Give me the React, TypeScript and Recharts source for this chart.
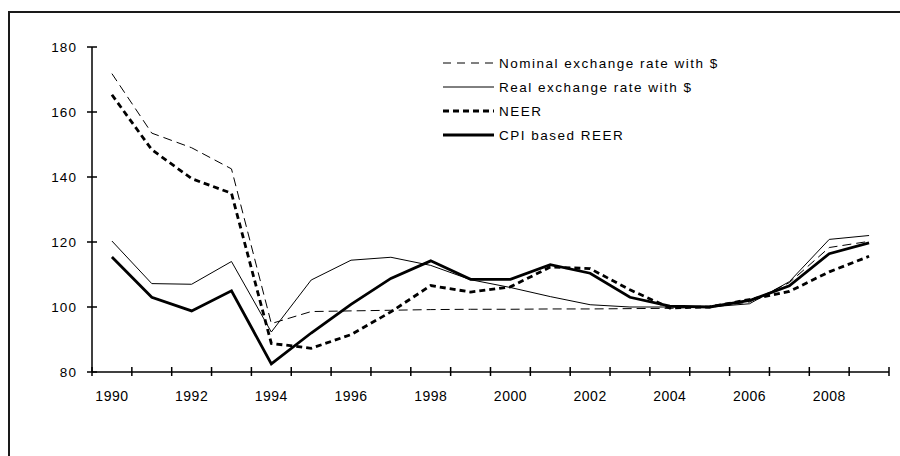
import React from 'react';
import { LineChart, Line, XAxis, YAxis } from 'recharts';

const years = [1990, 1991, 1992, 1993, 1994, 1995, 1996, 1997, 1998, 1999, 2000, 2001, 2002, 2003, 2004, 2005, 2006, 2007, 2008, 2009];
const nominalUSD = [171.8, 153.5, 149, 142.5, 94.9, 98.6, 98.8, 99, 99.2, 99.3, 99.3, 99.4, 99.4, 99.5, 99.6, 100, 101.5, 107.5, 118.3, 120.2];
const realUSD = [120.3, 107.2, 107, 114, 92.3, 108.3, 114.4, 115.3, 112.8, 108.4, 106, 103.2, 100.7, 100, 100, 100, 101, 107.8, 120.8, 122];
const neer = [165.3, 148.4, 139.5, 135, 88.8, 87.3, 91.5, 98.5, 106.6, 104.6, 106.2, 112.3, 111.8, 105.3, 99.7, 100, 102.3, 104.8, 110.8, 115.6];
const cpiReer = [115.4, 103, 98.8, 105, 82.5, 92, 100.8, 108.8, 114.2, 108.5, 108.5, 113, 110.4, 103, 100.3, 100, 102, 106.5, 116.4, 119.7];

const yTicks = [80, 100, 120, 140, 160, 180];
const labelYears = [1990, 1992, 1994, 1996, 1998, 2000, 2002, 2004, 2006, 2008];
const boundaryTicks = [...years.map((y) => y - 0.5), 2009.5];

const seriesNames = ['Nominal exchange rate with $', 'Real exchange rate with $', 'NEER', 'CPI based REER'];

const data = years.map((year, i) => ({
  year,
  nominal: nominalUSD[i],
  real: realUSD[i],
  neer: neer[i],
  reer: cpiReer[i],
}));

const xTickValues = [...boundaryTicks, ...labelYears].sort((a, b) => a - b);

const FONT = '"Liberation Sans", Arial, sans-serif';

const XTick = (props: any) => {
  const { x, y, payload } = props;
  const v = payload.value;
  if (Number.isInteger(v)) {
    return (
      <text x={x} y={y + 29} textAnchor="middle" fontFamily={FONT} fontSize={14} letterSpacing={0.5} fill="#000">
        {v}
      </text>
    );
  }
  return <line x1={x} x2={x} y1={y - 5} y2={y + 4} stroke="#000" strokeWidth={1.5} />;
};

const YTick = (props: any) => {
  const { x, y, payload } = props;
  return (
    <g>
      <line x1={x - 5} x2={x + 5} y1={y} y2={y} stroke="#000" strokeWidth={1.5} />
      <text x={x - 15} y={y} dy="0.36em" textAnchor="end" fontFamily={FONT} fontSize={13.5} letterSpacing={1.1} fill="#000">
        {payload.value}
      </text>
    </g>
  );
};

const legendStyles = [
  { width: 1, dash: '8 6' },
  { width: 1, dash: undefined },
  { width: 2.8, dash: '6 4' },
  { width: 2.8, dash: undefined },
];

const ChartLegend = () => (
  <div style={{ position: 'absolute', left: 443, top: 51, fontFamily: FONT }}>
    {seriesNames.map((name, i) => (
      <div key={name} style={{ display: 'flex', alignItems: 'center', height: 24 }}>
        <svg width={56} height={24} style={{ display: 'block' }}>
          <line x1={0} x2={51} y1={12} y2={12} stroke="#000" strokeWidth={legendStyles[i].width} strokeDasharray={legendStyles[i].dash} />
        </svg>
        <span style={{ fontSize: 13.5, letterSpacing: 1.5, color: '#000', whiteSpace: 'nowrap' }}>{name}</span>
      </div>
    ))}
  </div>
);

export default function App() {
  return (
    <div style={{ position: 'absolute', left: 0, top: 0, width: 900, height: 456, overflow: 'hidden', background: '#fff' }}>
      <div
        style={{
          position: 'absolute',
          left: 8,
          top: 11,
          width: 1000,
          height: 1000,
          borderLeft: '2px solid #1a1a1a',
          borderTop: '2px solid #1a1a1a',
        }}
      />
      <div style={{ position: 'absolute', left: 0, top: 0 }}>
        <LineChart width={900} height={456} data={data} margin={{ top: 47, right: 11, bottom: 54, left: 0 }}>
          <XAxis
            type="number"
            dataKey="year"
            domain={[1989.5, 2009.5]}
            ticks={xTickValues}
            interval={0}
            tick={<XTick />}
            tickLine={false}
            tickSize={0}
            tickMargin={0}
            height={30}
            axisLine={{ stroke: '#000', strokeWidth: 1.5 }}
            allowDecimals
          />
          <YAxis
            type="number"
            domain={[80, 180]}
            ticks={yTicks}
            interval={0}
            width={92}
            tick={<YTick />}
            tickLine={false}
            tickSize={0}
            tickMargin={0}
            axisLine={{ stroke: '#000', strokeWidth: 1.5 }}
          />
          <Line type="linear" dataKey="nominal" name={seriesNames[0]} stroke="#000" strokeWidth={1} strokeDasharray="9 5" dot={false} isAnimationActive={false} />
          <Line type="linear" dataKey="real" name={seriesNames[1]} stroke="#000" strokeWidth={1} dot={false} isAnimationActive={false} />
          <Line type="linear" dataKey="neer" name={seriesNames[2]} stroke="#000" strokeWidth={2.8} strokeDasharray="6 4" dot={false} isAnimationActive={false} />
          <Line type="linear" dataKey="reer" name={seriesNames[3]} stroke="#000" strokeWidth={2.8} dot={false} isAnimationActive={false} />
        </LineChart>
      </div>
      <ChartLegend />
    </div>
  );
}
